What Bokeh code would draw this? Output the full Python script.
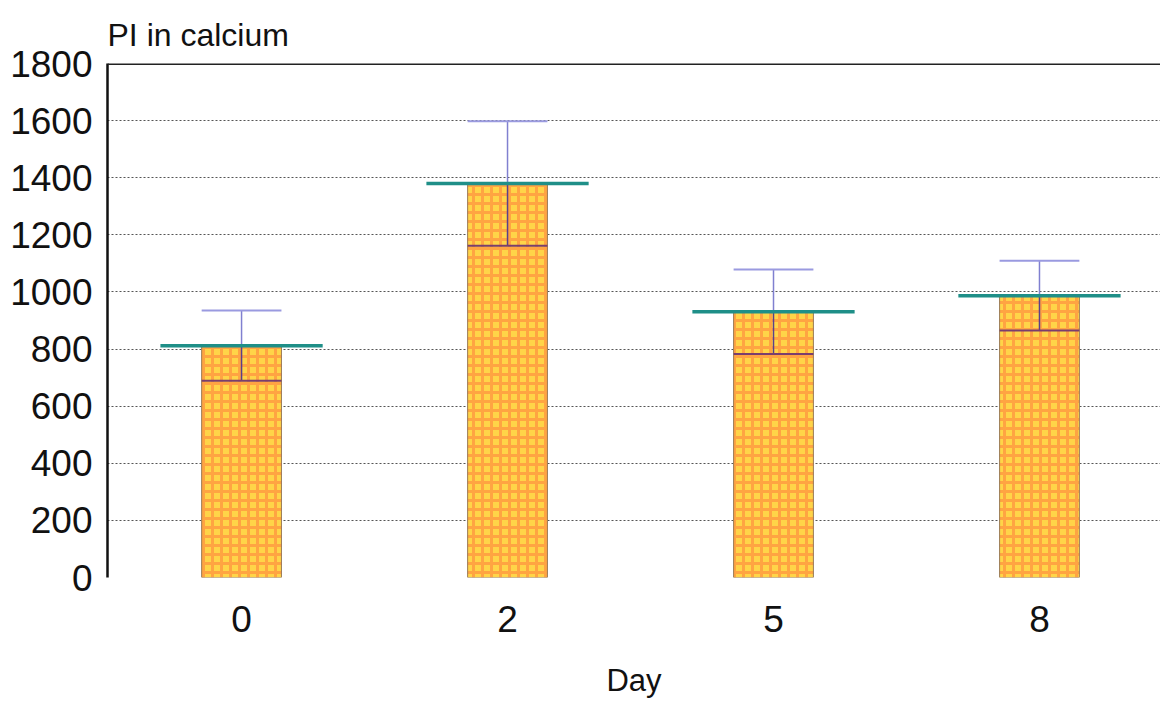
from bokeh.plotting import figure
from bokeh.models import Range1d, FixedTicker, Span
from bokeh.embed import file_html
from bokeh.resources import INLINE

days = ["0", "2", "5", "8"]
means = [812, 1380, 931, 987]
errors = [123, 218, 148, 122]
title_text = "PI in calcium"
x_title = "Day"

xs = list(range(len(days)))
upper = [m + e for m, e in zip(means, errors)]
lower = [m - e for m, e in zip(means, errors)]

p = figure(width=1160, height=700, output_backend="svg", toolbar_location=None,
           x_range=Range1d(-0.504, 3.455), y_range=Range1d(0, 1800),
           min_border_left=107, min_border_top=63, min_border_right=0, min_border_bottom=123)

p.title.text = title_text
p.title.text_font = "Liberation Sans"
p.title.text_font_size = "32px"
p.title.text_font_style = "normal"
p.title.align = "left"
p.title.text_color = "#111111"
p.title.standoff = 22

p.vbar(x=xs, top=means, width=0.3, bottom=0,
       fill_color="#FFD448", line_color="#9a7a55", line_width=1,
       hatch_pattern="cross", hatch_color="#FF6A3A", hatch_alpha=0.45,
       hatch_scale=9, hatch_weight=3)

# lower error parts (inside bar)
p.segment(x0=xs, y0=lower, x1=xs, y1=means, line_color="#5a3f8a", line_width=1.5)
p.segment(x0=[x - 0.15 for x in xs], y0=lower, x1=[x + 0.15 for x in xs], y1=lower,
          line_color="#7a3e6e", line_width=2)
# upper error parts
p.segment(x0=xs, y0=means, x1=xs, y1=upper, line_color="#8080d0", line_width=1.5)
p.segment(x0=[x - 0.15 for x in xs], y0=upper, x1=[x + 0.15 for x in xs], y1=upper,
          line_color="#9a9ae0", line_width=2)
# mean line
p.segment(x0=[x - 0.305 for x in xs], y0=means, x1=[x + 0.305 for x in xs], y1=means,
          line_color="#1f8f88", line_width=3.5)

p.add_layout(Span(location=1800, dimension="width", line_color="#222222", line_width=3))

p.xaxis.ticker = FixedTicker(ticks=xs)
p.xaxis.major_label_overrides = {x: d for x, d in zip(xs, days)}
p.xaxis.axis_label = x_title
p.xaxis.axis_line_color = None
p.xaxis.major_tick_line_color = None
p.xaxis.minor_tick_line_color = None
p.xaxis.major_label_text_font = "Liberation Sans"
p.xaxis.major_label_text_font_size = "37px"
p.xaxis.major_label_text_color = "#111111"
p.xaxis.major_label_standoff = 22
p.xaxis.axis_label_text_font = "Liberation Sans"
p.xaxis.axis_label_text_font_size = "31px"
p.xaxis.axis_label_text_font_style = "normal"
p.xaxis.axis_label_text_color = "#111111"
p.xaxis.axis_label_standoff = 28

p.yaxis.ticker = FixedTicker(ticks=list(range(0, 1801, 200)))
p.yaxis.axis_line_color = "#111111"
p.yaxis.axis_line_width = 2.5
p.yaxis.major_tick_line_color = None
p.yaxis.minor_tick_line_color = None
p.yaxis.major_label_text_font = "Liberation Sans"
p.yaxis.major_label_text_font_size = "37px"
p.yaxis.major_label_text_color = "#111111"
p.yaxis.major_label_standoff = 9

p.xgrid.grid_line_color = None
p.ygrid.ticker = FixedTicker(ticks=list(range(0, 1601, 200)))
p.ygrid.grid_line_color = "#555555"
p.ygrid.grid_line_dash = "2 2"
p.ygrid.grid_line_width = 1.2
p.outline_line_color = None

open("out.html", "w").write(file_html(p, INLINE))
